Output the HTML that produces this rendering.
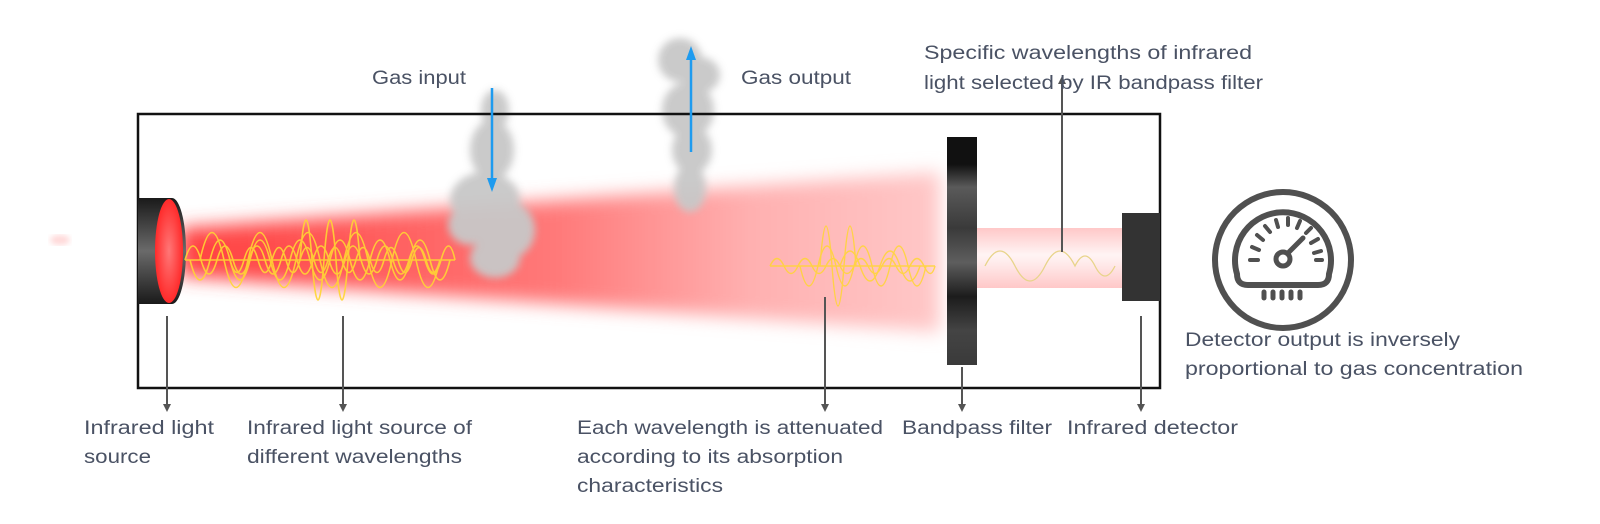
<!DOCTYPE html>
<html><head><meta charset="utf-8"><style>
html,body{margin:0;padding:0;background:#fff;}
svg{display:block}
text{font-family:"Liberation Sans",sans-serif;font-size:19px;fill:#4a5264;}
</style></head><body>
<svg width="1600" height="524" viewBox="0 0 1600 524" xmlns="http://www.w3.org/2000/svg">
<defs>
<filter id="b1" x="-20%" y="-50%" width="140%" height="200%"><feGaussianBlur stdDeviation="9"/></filter>
<filter id="b2" x="-30%" y="-30%" width="160%" height="160%"><feGaussianBlur stdDeviation="4"/></filter>
<filter id="b3"><feGaussianBlur stdDeviation="3"/></filter>
<linearGradient id="beam" x1="0" x2="1" y1="0" y2="0">
<stop offset="0" stop-color="#ff4040"/><stop offset="0.5" stop-color="#ff7a7a"/><stop offset="0.75" stop-color="#ffb0b0"/><stop offset="1" stop-color="#ffc8c8"/></linearGradient>
<linearGradient id="cyl" x1="0" x2="0" y1="0" y2="1">
<stop offset="0" stop-color="#1a1a1a"/><stop offset="0.5" stop-color="#6a6a6a"/><stop offset="1" stop-color="#1a1a1a"/></linearGradient>
<linearGradient id="filt" x1="0" x2="0" y1="0" y2="1">
<stop offset="0" stop-color="#111"/><stop offset="0.12" stop-color="#111"/><stop offset="0.22" stop-color="#5a5a5a"/><stop offset="0.4" stop-color="#3a3a3a"/><stop offset="0.55" stop-color="#5e5e5e"/><stop offset="0.7" stop-color="#1c1c1c"/><stop offset="0.85" stop-color="#444"/><stop offset="1" stop-color="#3a3a3a"/></linearGradient>
<radialGradient id="lens" cx="0.5" cy="0.5" r="0.5"><stop offset="0" stop-color="#ff7777"/><stop offset="1" stop-color="#ff2a2a"/></radialGradient>
<linearGradient id="beam2" x1="0" x2="0" y1="0" y2="1"><stop offset="0" stop-color="#ffc8c8"/><stop offset="0.45" stop-color="#fff4f4"/><stop offset="0.6" stop-color="#ffeaea"/><stop offset="1" stop-color="#ffc8c8"/></linearGradient>
</defs>

<!-- main beam -->
<polygon points="180,228 940,172 940,332 180,276" fill="url(#beam)" filter="url(#b1)"/>
<ellipse cx="60" cy="240" rx="10" ry="5" fill="#ffd8d8" filter="url(#b3)"/>

<!-- smoke -->
<g fill="#c8c8c8" filter="url(#b2)" opacity="0.95">
<ellipse cx="495" cy="110" rx="14" ry="20"/>
<ellipse cx="492" cy="150" rx="22" ry="30"/>
<ellipse cx="485" cy="200" rx="35" ry="28"/>
<ellipse cx="470" cy="225" rx="22" ry="20"/>
<ellipse cx="505" cy="230" rx="30" ry="30"/>
<ellipse cx="495" cy="258" rx="25" ry="20"/>
<ellipse cx="680" cy="60" rx="22" ry="22"/>
<ellipse cx="700" cy="75" rx="20" ry="18"/>
<ellipse cx="688" cy="110" rx="26" ry="28"/>
<ellipse cx="692" cy="150" rx="20" ry="24"/>
<ellipse cx="690" cy="188" rx="16" ry="24"/>
</g>

<!-- box -->
<rect x="138" y="114" width="1022" height="274" fill="none" stroke="#111" stroke-width="2.5"/>

<!-- source cylinder -->
<path d="M138,198 H172 A14,53 0 0 1 172,304 H138 Z" fill="url(#cyl)"/>
<ellipse cx="169" cy="251" rx="14" ry="52" fill="url(#lens)"/>

<!-- waves near source -->
<g fill="none" stroke="#ffd633" stroke-width="1.6" opacity="0.9">
<line x1="185" y1="260" x2="455" y2="260"/>
<path d="M185,260 q8,-28 16,0 t16,0 t16,0 t16,0 t16,0 t16,0 t16,0 t16,0 t16,0 t16,0 t16,0 t16,0 t16,0 t16,0 t16,0 t16,0 t14,0"/>
<path d="M190,260 q10,40 20,0 t20,0 t20,0 t20,0 t20,0 t20,0 t20,0 t20,0 t20,0 t20,0 t20,0 t20,0 t20,0"/>
<path d="M200,260 q12,-55 24,0 t24,0 t24,0 t24,0 t24,0 t24,0 t24,0 t24,0 t24,0 t24,0"/>
<path d="M230,260 q7,25 14,0 t14,0 t14,0 t14,0 t14,0 t14,0 t14,0 t14,0 t14,0 t14,0 t14,0 t14,0 t14,0 t14,0 t14,0"/>
<path d="M300,260 q6,-80 12,0 t12,0 t12,0 t12,0 t12,0"/>
</g>

<!-- attenuated waves -->
<g fill="none" stroke="#ffd633" stroke-width="1.4" opacity="0.85">
<line x1="770" y1="266" x2="935" y2="266"/>
<path d="M770,266 q7,-15 14,0 t14,0 t14,0 t14,0 t14,0 t14,0 t14,0 t14,0 t14,0 t14,0 t14,0 t11,0"/>
<path d="M800,266 q9,40 18,0 t18,0 t18,0 t18,0 t18,0 t18,0 t18,0"/>
<path d="M820,266 q6,-80 12,0 t12,0 t12,0"/>
<path d="M840,266 q10,-30 20,0 t20,0 t20,0 t20,0"/>
</g>

<!-- second beam -->
<rect x="977" y="228" width="145" height="60" fill="url(#beam2)"/>
<path d="M985,266 q15,-30 30,0 t30,0 t30,0 q10,-20 20,0 t20,0" fill="none" stroke="#e8d48a" stroke-width="1.3"/>

<!-- filter -->
<rect x="947" y="137" width="30" height="228" fill="url(#filt)"/>
<!-- detector -->
<rect x="1122" y="213" width="38" height="88" fill="#333"/>

<!-- blue arrows -->
<g stroke="#1e9bef" stroke-width="2.5" fill="#1e9bef">
<line x1="492" y1="88" x2="492" y2="180"/>
<polygon points="487,178 497,178 492,192" stroke="none"/>
<line x1="691" y1="152" x2="691" y2="58"/>
<polygon points="686,60 696,60 691,46" stroke="none"/>
</g>

<!-- pointer lines -->
<g stroke="#555" stroke-width="2" fill="#555">
<line x1="167" y1="316" x2="167" y2="406"/><polygon points="163,404 171,404 167,412" stroke="none"/>
<line x1="343" y1="316" x2="343" y2="406"/><polygon points="339,404 347,404 343,412" stroke="none"/>
<line x1="825" y1="297" x2="825" y2="406"/><polygon points="821,404 829,404 825,412" stroke="none"/>
<line x1="962" y1="367" x2="962" y2="406"/><polygon points="958,404 966,404 962,412" stroke="none"/>
<line x1="1141" y1="316" x2="1141" y2="406"/><polygon points="1137,404 1145,404 1141,412" stroke="none"/>
<line x1="1062" y1="252" x2="1062" y2="82"/><polygon points="1058,84 1066,84 1062,76" stroke="none"/>
</g>

<!-- gauge -->
<g stroke="#505050" fill="none">
<circle cx="1283" cy="260" r="68" stroke-width="6"/>
<path d="M1237,274 A48,48 0 1 1 1329,274 Q1329,285 1318,285 H1248 Q1237,285 1237,274 Z" stroke-width="6" stroke-linejoin="round"/>
<g stroke-width="4" stroke-linecap="round">
<line x1="1250" y1="260" x2="1258" y2="260"/>
<line x1="1252" y1="247" x2="1259" y2="250"/>
<line x1="1257" y1="235" x2="1263" y2="240"/>
<line x1="1265" y1="226" x2="1270" y2="232"/>
<line x1="1276" y1="220" x2="1278" y2="227"/>
<line x1="1288" y1="218" x2="1288" y2="225"/>
<line x1="1300" y1="221" x2="1297" y2="228"/>
<line x1="1311" y1="228" x2="1306" y2="233"/>
<line x1="1318" y1="239" x2="1311" y2="243"/>
<line x1="1321" y1="251" x2="1314" y2="253"/>
<line x1="1316" y1="260" x2="1322" y2="260"/>
<line x1="1289" y1="252" x2="1303" y2="238" stroke-width="5"/>
</g>
<circle cx="1283" cy="259" r="7" stroke-width="5"/>
<g stroke-width="5" stroke-linecap="round">
<line x1="1264" y1="292" x2="1264" y2="298"/><line x1="1273" y1="292" x2="1273" y2="298"/><line x1="1282" y1="292" x2="1282" y2="298"/><line x1="1291" y1="292" x2="1291" y2="298"/><line x1="1300" y1="292" x2="1300" y2="298"/>
</g>
</g>

<!-- labels -->
<text x="372" y="84" textLength="94" lengthAdjust="spacingAndGlyphs">Gas input</text>
<text x="741" y="84" textLength="110" lengthAdjust="spacingAndGlyphs">Gas output</text>
<text x="924" y="59" textLength="328" lengthAdjust="spacingAndGlyphs">Specific wavelengths of infrared</text>
<text x="924" y="89" textLength="339" lengthAdjust="spacingAndGlyphs">light selected by IR bandpass filter</text>
<text x="84" y="434" textLength="130" lengthAdjust="spacingAndGlyphs">Infrared light</text>
<text x="84" y="463" textLength="67" lengthAdjust="spacingAndGlyphs">source</text>
<text x="247" y="434" textLength="225" lengthAdjust="spacingAndGlyphs">Infrared light source of</text>
<text x="247" y="463" textLength="215" lengthAdjust="spacingAndGlyphs">different wavelengths</text>
<text x="577" y="434" textLength="306" lengthAdjust="spacingAndGlyphs">Each wavelength is attenuated</text>
<text x="577" y="463" textLength="266" lengthAdjust="spacingAndGlyphs">according to its absorption</text>
<text x="577" y="492" textLength="146" lengthAdjust="spacingAndGlyphs">characteristics</text>
<text x="902" y="434" textLength="150" lengthAdjust="spacingAndGlyphs">Bandpass filter</text>
<text x="1067" y="434" textLength="171" lengthAdjust="spacingAndGlyphs">Infrared detector</text>
<text x="1185" y="346" textLength="275" lengthAdjust="spacingAndGlyphs">Detector output is inversely</text>
<text x="1185" y="375" textLength="338" lengthAdjust="spacingAndGlyphs">proportional to gas concentration</text>
</svg>
</body></html>
